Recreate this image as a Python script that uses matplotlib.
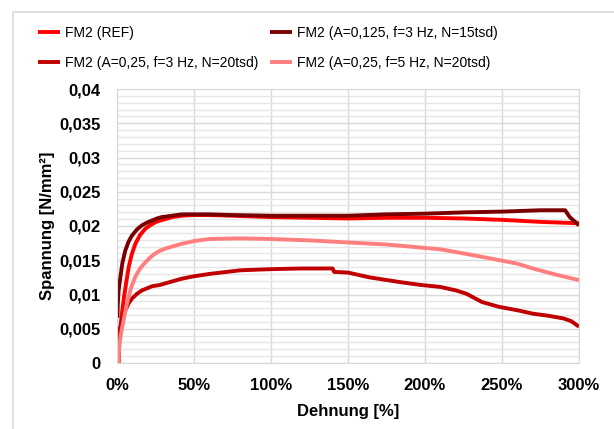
import matplotlib
matplotlib.use("Agg")
import matplotlib.pyplot as plt
from matplotlib.ticker import MultipleLocator
from matplotlib.lines import Line2D

plt.rcParams['font.family'] = ['Liberation Sans', 'DejaVu Sans']

# ---- data ----
labels = ["FM2 (REF)", "FM2 (A=0,125, f=3 Hz, N=15tsd)",
          "FM2 (A=0,25, f=3 Hz, N=20tsd)", "FM2 (A=0,25, f=5 Hz, N=20tsd)"]
colors = ["#FF0000", "#7A0000", "#C00000", "#FF7F7F"]

ref_x = [1.1, 1.5, 2.8, 4.3, 6, 7.6, 9.5, 11.9, 15, 18.4, 21.5, 24.9, 28, 31.4, 35.7, 42, 50, 60, 75,
         100, 125, 150, 175, 200, 225, 250, 275, 300]
ref_y = [0, 0.0035, 0.0065, 0.0092, 0.0118, 0.0140, 0.0158, 0.0174, 0.0187, 0.0196, 0.0201, 0.02055,
         0.0208, 0.0210, 0.0213, 0.0215, 0.0216, 0.0216, 0.0215,
         0.0213, 0.0212, 0.0211, 0.0212, 0.0212, 0.0211, 0.0209, 0.0206, 0.0204]

a125_x = [0.3, 0.5, 1.0, 2.2, 3.5, 5.4, 7.5, 9.7, 13, 16.2, 19.5, 22.7, 26, 29, 35.7, 42, 50, 60, 75,
          100, 125, 150, 175, 200, 227, 250, 275, 291, 294, 297, 300]
a125_y = [0.0066, 0.0085, 0.0105, 0.01256, 0.0146, 0.01644, 0.0177, 0.0186, 0.0195, 0.0201, 0.0205,
          0.0208, 0.0211, 0.0213, 0.0215, 0.0217, 0.0217, 0.0217, 0.0216,
          0.0215, 0.0215, 0.0215, 0.0217, 0.0218, 0.0220, 0.0221, 0.0223, 0.0223, 0.0213, 0.0207, 0.0201]

f3_x = [0.2, 0.7, 1.3, 2.2, 3.5, 5.4, 7.5, 9.7, 13, 16.2, 19.5, 22.7, 27.9, 35.7, 42, 49.6, 60, 80,
        100, 120, 140, 141, 150, 164, 184, 197, 210, 220, 227, 232, 237, 248, 260, 270, 280, 290, 295, 300]
f3_y = [0.0024, 0.0036, 0.0045, 0.00528, 0.0065, 0.0077, 0.0087, 0.0094, 0.0101, 0.0106, 0.0109,
        0.0112, 0.0114, 0.0119, 0.0123, 0.01265, 0.0130, 0.01353,
        0.0137, 0.0138, 0.0138, 0.0133, 0.0132, 0.0125, 0.0118, 0.0114, 0.0111, 0.0106, 0.0101,
        0.0095, 0.0089, 0.0082, 0.0077, 0.0072, 0.0069, 0.0065, 0.0061, 0.0053]

f5_x = [0.8, 1.5, 2.5, 4.3, 6, 7.6, 9.5, 11.9, 15, 18.4, 21.5, 24.9, 28, 31.4, 35.7, 42, 50, 60, 80,
        100, 125, 150, 175, 200, 210, 225, 244, 260, 270, 285, 300]
f5_y = [0, 0.0025, 0.0042, 0.0063, 0.0082, 0.0097, 0.0112, 0.0126, 0.0138, 0.0147, 0.0154, 0.0160,
        0.0164, 0.0167, 0.0170, 0.0174, 0.0178, 0.0181, 0.0182,
        0.0181, 0.0179, 0.0176, 0.0173, 0.0168, 0.0166, 0.0160, 0.0152, 0.0145, 0.0138, 0.0129, 0.0121]

x_ticks = [0, 50, 100, 150, 200, 250, 300]
x_ticklabels = ["0%", "50%", "100%", "150%", "200%", "250%", "300%"]
y_ticks = [0, 0.005, 0.01, 0.015, 0.02, 0.025, 0.03, 0.035, 0.04]
y_ticklabels = ["0", "0,005", "0,01", "0,015", "0,02", "0,025", "0,03", "0,035", "0,04"]

series = [(ref_x, ref_y), (a125_x, a125_y), (f3_x, f3_y), (f5_x, f5_y)]

# ---- figure ----
W, H = 614, 429
fig = plt.figure(figsize=(W / 100, H / 100), dpi=100)
ax = fig.add_axes([117 / W, 1 - 363 / H, (579 - 117) / W, (363 - 89) / H])

# outer chart border
fig.add_artist(Line2D([13 / W, 13 / W, 1.0], [0.0, 1 - 12 / H, 1 - 12 / H],
                      transform=fig.transFigure, color="#D9D9D9", lw=1.2))

grid_c = "#D9D9D9"
ax.set_xlim(0, 300)
ax.set_ylim(0, 0.04)
ax.yaxis.set_minor_locator(MultipleLocator(0.001))
ax.set_xticks(x_ticks)
ax.set_xticklabels(x_ticklabels)
ax.set_yticks(y_ticks)
ax.set_yticklabels(y_ticklabels)
ax.grid(which="major", axis="both", color=grid_c, lw=1.0)
ax.grid(which="minor", axis="y", color="#E6E6E6", lw=1.0)
ax.set_axisbelow(True)
ax.tick_params(which="both", length=0)
ax.tick_params(axis="y", pad=12)
ax.tick_params(axis="x", pad=11)
for lab in ax.get_xticklabels() + ax.get_yticklabels():
    lab.set_fontweight("bold")
    lab.set_fontsize(12)
for s in ax.spines.values():
    s.set_color(grid_c)

handles = []
for (xs, ys), c, l in zip(series, colors, labels):
    h, = ax.plot(xs, ys, color=c, lw=2.8, label=l, solid_capstyle="butt")
    handles.append(h)

ax.set_xlabel("Dehnung [%]", fontsize=12, fontweight="bold", labelpad=8)
ax.set_ylabel("Spannung [N/mm²]", fontsize=12, fontweight="bold", labelpad=3)

order = [0, 2, 1, 3]
fig.legend([handles[i] for i in order], [labels[i] for i in order], ncol=2,
           loc="upper left", bbox_to_anchor=(38 / W, 1 - 26 / H), frameon=False,
           fontsize=10, handlelength=1.6, handletextpad=0.35, columnspacing=0.8,
           labelspacing=1.14, borderaxespad=0, borderpad=0)

fig.savefig("out.png", dpi=100)
